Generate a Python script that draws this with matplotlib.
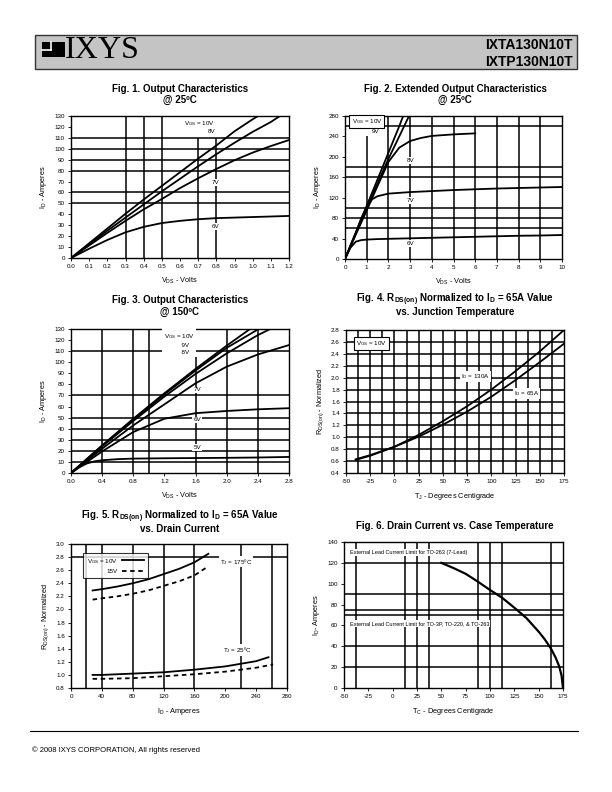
import matplotlib
matplotlib.use('Agg')

import matplotlib.pyplot as plt
from matplotlib.patches import Rectangle
import numpy as np

plt.rcParams['font.family'] = ['Liberation Sans', 'DejaVu Sans']
plt.rcParams['mathtext.fontset'] = 'custom'
plt.rcParams['mathtext.rm'] = 'Liberation Sans'
plt.rcParams['mathtext.it'] = 'Liberation Sans:italic'
plt.rcParams['mathtext.bf'] = 'Liberation Sans:bold'

# ---- data ----
# Fig 1: output characteristics @ 25C
f1_vds_10v = [0, 0.1, 0.2, 0.3, 0.4, 0.5, 0.6, 0.7, 0.8, 0.9, 1.0, 1.03]
f1_id_10v = [0, 13.5, 27, 40.5, 53.5, 66, 78.5, 91, 103, 116, 127, 130]
f1_vds_8v = [0, 0.1, 0.2, 0.3, 0.4, 0.5, 0.6, 0.7, 0.8, 0.9, 1.0, 1.1, 1.15]
f1_id_8v = [0, 12.5, 25, 37, 49, 61, 72.5, 84, 95, 105.5, 115.5, 124.5, 130]
f1_vds = [0, 0.1, 0.2, 0.3, 0.4, 0.5, 0.6, 0.7, 0.8, 0.9, 1.0, 1.1, 1.2]
f1_id_7v = [0, 11.5, 23, 34, 44.5, 54, 64, 73, 81.5, 89.5, 96.5, 102.5, 108]
f1_id_6v = [0, 8.5, 16.5, 23.5, 28.5, 32, 34, 35.5, 36.5, 37, 37.5, 38, 38.5]

# Fig 2: extended output characteristics @ 25C
f2_vds_10v = [0, 0.5, 1, 1.5, 2, 2.5, 2.68]
f2_id_10v = [0, 52, 104, 156, 208, 260, 280]
f2_vds_9v = [0, 0.5, 1, 1.5, 2, 2.5, 2.95]
f2_id_9v = [0, 50, 99, 148, 196, 240, 280]
f2_vds_8v = [0, 0.5, 1, 1.5, 2, 2.5, 3, 3.5, 4, 5, 6]
f2_id_8v = [0, 48, 95, 143, 190, 218, 231, 237, 241, 244, 246]
f2_vds_7v = [0, 0.25, 0.5, 0.75, 1, 1.25, 1.5, 2, 3, 4, 5, 6, 7, 8, 9, 10]
f2_id_7v = [0, 26, 52, 80, 102, 117, 123, 128, 131, 133, 135, 136.5, 138, 139, 140, 141]
f2_vds_6v = [0, 0.25, 0.5, 0.75, 1, 1.5, 2, 3, 4, 5, 6, 7, 8, 9, 10]
f2_id_6v = [0, 22, 34, 37, 38, 39, 39.5, 40.5, 41.5, 42.5, 43.5, 44.5, 45.5, 46, 47]

# Fig 3: output characteristics @ 150C
f3_vds_10v = [0, 0.4, 0.8, 1.2, 1.6, 2.0, 2.3]
f3_id_10v = [0, 25, 49, 72, 94, 115, 130]
f3_vds_9v = [0, 0.4, 0.8, 1.2, 1.6, 2.0, 2.41]
f3_id_9v = [0, 24.5, 48, 71, 92.5, 113, 130]
f3_vds_8v = [0, 0.4, 0.8, 1.2, 1.6, 2.0, 2.4, 2.56]
f3_id_8v = [0, 24, 47, 69, 89.5, 108, 124.5, 130]
f3_vds = [0, 0.4, 0.8, 1.2, 1.6, 2.0, 2.4, 2.8]
f3_id_7v = [0, 22, 43, 62, 81, 96, 107, 115.5]
f3_id_6v = [0, 19.5, 37, 49, 54, 56, 57.5, 58.5]
f3_vds_5v = [0, 0.1, 0.2, 0.3, 0.4, 0.6, 0.8, 1.2, 1.6, 2.0, 2.4, 2.8]
f3_id_5v = [0, 5, 8.5, 10.5, 11.5, 12.5, 13, 13.3, 13.5, 13.7, 14, 14.5]

# Fig 4: RDS(on) vs junction temperature
f4_tj = [-40, -25, 0, 25, 50, 75, 100, 125, 150, 175]
f4_r_130a = [0.62, 0.69, 0.84, 1.04, 1.27, 1.52, 1.80, 2.11, 2.44, 2.80]
f4_r_65a = [0.63, 0.70, 0.84, 1.01, 1.21, 1.43, 1.68, 1.96, 2.26, 2.57]

# Fig 5: RDS(on) vs drain current
f5_id_175 = [28, 40, 60, 80, 100, 120, 140, 160, 178]
f5_r_175_10v = [2.29, 2.31, 2.35, 2.40, 2.46, 2.54, 2.62, 2.72, 2.85]
f5_r_175_15v = [2.15, 2.17, 2.20, 2.24, 2.29, 2.36, 2.43, 2.52, 2.66]
f5_id_25_10v = [28, 40, 80, 120, 160, 200, 240, 256]
f5_r_25_10v = [1.00, 1.00, 1.02, 1.04, 1.08, 1.13, 1.21, 1.27]
f5_id_25_15v = [28, 40, 80, 120, 160, 200, 240, 262]
f5_r_25_15v = [0.94, 0.94, 0.95, 0.98, 1.01, 1.05, 1.11, 1.16]

# Fig 6: drain current vs case temperature
f6_tc = [50, 62.5, 75, 87.5, 100, 112.5, 125, 137.5, 150, 156, 162.5, 167.5, 171, 173.5, 175]
f6_id = [120, 115, 109.5, 102, 94, 86.5, 77, 67, 54, 47, 38, 29, 21, 12, 0]

# ticks
f1_xticks = [0.0, 0.1, 0.2, 0.3, 0.4, 0.5, 0.6, 0.7, 0.8, 0.9, 1.0, 1.1, 1.2]
f1_yticks = list(range(0, 131, 10))
f2_xticks = list(range(0, 11))
f2_yticks = list(range(0, 281, 40))
f3_xticks = [0.0, 0.4, 0.8, 1.2, 1.6, 2.0, 2.4, 2.8]
f3_yticks = list(range(0, 131, 10))
f4_xticks = list(range(-50, 176, 25))
f4_yticks = [0.4, 0.6, 0.8, 1.0, 1.2, 1.4, 1.6, 1.8, 2.0, 2.2, 2.4, 2.6, 2.8]
f5_xticks = list(range(0, 281, 40))
f5_yticks = [0.8, 1.0, 1.2, 1.4, 1.6, 1.8, 2.0, 2.2, 2.4, 2.6, 2.8, 3.0]
f6_xticks = list(range(-50, 176, 25))
f6_yticks = list(range(0, 141, 20))

W, H = 612, 792
fig = plt.figure(figsize=(W / 100, H / 100), dpi=100)

# page overlay in pixel coordinates
page = fig.add_axes([0, 0, 1, 1])
page.set_xlim(0, W)
page.set_ylim(H, 0)
page.axis('off')


def box(l, r, t, b):
    return [l / W, 1 - b / H, (r - l) / W, (b - t) / H]


LW_GRID = 1.1
LW_CURVE = 1.3
TICK_FS = 4.5
LAB_FS = 5.3
NOTE_FS = 4.5
YPAD = 3.5
WHITE = dict(facecolor='white', edgecolor='none', pad=0.6)


def setup(ax, xlim, ylim, xticks, yticks, xfmt, yfmt):
    ax.set_xlim(*xlim)
    ax.set_ylim(*ylim)
    ax.set_xticks(xticks)
    ax.set_yticks(yticks)
    ax.set_xticklabels([xfmt % v for v in xticks])
    ax.set_yticklabels([yfmt % v for v in yticks])
    ax.tick_params(direction='out', length=2, width=0.6, pad=2.5, labelsize=TICK_FS)
    for s in ax.spines.values():
        s.set_linewidth(1.0)


def note(ax, x, y, s, ha='left', bg=True):
    ax.text(x, y, s, fontsize=NOTE_FS, ha=ha, va='center', zorder=5,
            bbox=WHITE if bg else None)


# ---- header ----
page.add_patch(Rectangle((35, 35), 542, 34, facecolor='#c4c4c4', edgecolor='#333333', lw=1.0))
page.add_patch(Rectangle((42, 42), 23, 15, facecolor='black', edgecolor='none'))
page.plot([50.5, 50.5], [42, 49.5], color='white', lw=1.2)
page.plot([42, 50.5], [49.5, 49.5], color='white', lw=1.2)
page.text(65, 50, 'IXYS', fontsize=23, family='Liberation Serif', va='center', ha='left')
page.text(573, 45, 'IXTA130N10T', fontsize=10, weight='bold', ha='right', va='center')
page.text(573, 62, 'IXTP130N10T', fontsize=10, weight='bold', ha='right', va='center')

# ---- titles ----
TFS = 7
page.text(180, 89, 'Fig. 1. Output Characteristics', fontsize=TFS, weight='bold', ha='center', va='center')
page.text(180, 100, '@ 25ºC', fontsize=TFS, weight='bold', ha='center', va='center')
page.text(455, 89, 'Fig. 2. Extended Output Characteristics', fontsize=TFS, weight='bold', ha='center', va='center')
page.text(455, 100, '@ 25ºC', fontsize=TFS, weight='bold', ha='center', va='center')
page.text(180, 300, 'Fig. 3. Output Characteristics', fontsize=TFS, weight='bold', ha='center', va='center')
page.text(180, 312, '@ 150ºC', fontsize=TFS, weight='bold', ha='center', va='center')
page.text(455, 300, r'Fig. 4. R$_{\mathregular{DS(on)}}$ Normalized to I$_{\mathregular{D}}$ = 65A Value',
          fontsize=TFS, weight='bold', ha='center', va='center')
page.text(455, 312, 'vs. Junction Temperature', fontsize=TFS, weight='bold', ha='center', va='center')
page.text(180, 517, r'Fig. 5. R$_{\mathregular{DS(on)}}$ Normalized to I$_{\mathregular{D}}$ = 65A Value',
          fontsize=TFS, weight='bold', ha='center', va='center')
page.text(180, 529, 'vs. Drain Current', fontsize=TFS, weight='bold', ha='center', va='center')
page.text(455, 526, 'Fig. 6. Drain Current vs. Case Temperature', fontsize=TFS, weight='bold',
          ha='center', va='center')

# ---- footer ----
page.plot([30, 578], [731, 731], color='black', lw=0.8)
page.text(32, 750, '© 2008 IXYS CORPORATION, All rights reserved', fontsize=5.5, ha='left', va='center')

ID_LABEL = r'I$_{\mathregular{D}}$ - Amperes'
RDS_LABEL = r'R$_{\mathregular{DS(on)}}$ - Normalized'

# === Fig 1 ===
ax1 = fig.add_axes(box(71, 289, 116, 258))
setup(ax1, (0, 1.2), (0, 130), f1_xticks, f1_yticks, '%.1f', '%d')
for x in [0.3, 0.4, 0.5]:
    ax1.axvline(x, color='black', lw=LW_GRID, zorder=1)
ax1.vlines([0.7, 0.8], 0, 110, color='black', lw=LW_GRID, zorder=1)
for y in [110, 100, 90, 80, 60, 50]:
    ax1.axhline(y, color='black', lw=LW_GRID, zorder=1)
ax1.plot(f1_vds_10v, f1_id_10v, color='black', lw=LW_CURVE, zorder=3)
ax1.plot(f1_vds_8v, f1_id_8v, color='black', lw=LW_CURVE, zorder=3)
ax1.plot(f1_vds, f1_id_7v, color='black', lw=LW_CURVE, zorder=3)
ax1.plot(f1_vds, f1_id_6v, color='black', lw=LW_CURVE, zorder=3)
note(ax1, 0.62, 123, r'V$_{\mathregular{GS}}$ = 10V')
note(ax1, 0.75, 116, '8V')
note(ax1, 0.775, 69, '7V')
note(ax1, 0.775, 29, '6V')
ax1.set_xlabel(r'V$_{\mathregular{DS}}$ - Volts', fontsize=LAB_FS, labelpad=5)
ax1.set_ylabel(ID_LABEL, fontsize=LAB_FS, labelpad=YPAD)

# === Fig 2 ===
ax2 = fig.add_axes(box(345, 562, 116, 259))
setup(ax2, (0, 10), (0, 280), f2_xticks, f2_yticks, '%d', '%d')
for x in range(2, 10):
    ax2.axvline(x, color='black', lw=LW_GRID, zorder=1)
ax2.vlines([1], 0, 240, color='black', lw=LW_GRID, zorder=1)
for y in [260, 180, 160, 100, 80, 60]:
    ax2.axhline(y, color='black', lw=LW_GRID, zorder=1)
ax2.plot(f2_vds_10v, f2_id_10v, color='black', lw=LW_CURVE, zorder=3)
ax2.plot(f2_vds_9v, f2_id_9v, color='black', lw=LW_CURVE, zorder=3)
ax2.plot(f2_vds_8v, f2_id_8v, color='black', lw=LW_CURVE, zorder=3)
ax2.plot(f2_vds_7v, f2_id_7v, color='black', lw=LW_CURVE, zorder=3)
ax2.plot(f2_vds_6v, f2_id_6v, color='black', lw=LW_CURVE, zorder=3)
ax2.text(0.3, 270, r'V$_{\mathregular{GS}}$ = 10V', fontsize=NOTE_FS, ha='left', va='center', zorder=5,
         bbox=dict(facecolor='white', edgecolor='black', lw=0.8, pad=1.5))
note(ax2, 1.25, 249, '9V')
note(ax2, 2.85, 193, '8V')
note(ax2, 2.85, 115, '7V')
note(ax2, 2.85, 30, '6V')
ax2.set_xlabel(r'V$_{\mathregular{DS}}$ - Volts', fontsize=LAB_FS, labelpad=5)
ax2.set_ylabel(ID_LABEL, fontsize=LAB_FS, labelpad=YPAD)

# === Fig 3 ===
ax3 = fig.add_axes(box(71, 289, 329, 473))
setup(ax3, (0, 2.8), (0, 130), f3_xticks, f3_yticks, '%.1f', '%d')
for x in [0.4, 0.8, 1.0, 2.0, 2.4]:
    ax3.axvline(x, color='black', lw=LW_GRID, zorder=1)
ax3.vlines([1.6], 0, 105, color='black', lw=LW_GRID, zorder=1)
for y in [110, 70, 50, 40, 30, 20, 10]:
    ax3.axhline(y, color='black', lw=LW_GRID, zorder=1)
ax3.plot(f3_vds_10v, f3_id_10v, color='black', lw=LW_CURVE, zorder=3)
ax3.plot(f3_vds_9v, f3_id_9v, color='black', lw=LW_CURVE, zorder=3)
ax3.plot(f3_vds_8v, f3_id_8v, color='black', lw=LW_CURVE, zorder=3)
ax3.plot(f3_vds, f3_id_7v, color='black', lw=LW_CURVE, zorder=3)
ax3.plot(f3_vds, f3_id_6v, color='black', lw=LW_CURVE, zorder=3)
ax3.plot(f3_vds_5v, f3_id_5v, color='black', lw=LW_CURVE, zorder=3)
ax3.text(1.19, 117, r'V$_{\mathregular{GS}}$ = 10V' + '\n          9V\n          8V', fontsize=NOTE_FS,
         ha='left', va='center', zorder=5, linespacing=1.5,
         bbox=dict(facecolor='white', edgecolor='none', pad=1.2))
note(ax3, 1.57, 75, '7V')
note(ax3, 1.57, 48, '6V')
note(ax3, 1.57, 23, '5V')
ax3.set_xlabel(r'V$_{\mathregular{DS}}$ - Volts', fontsize=LAB_FS, labelpad=5)
ax3.set_ylabel(ID_LABEL, fontsize=LAB_FS, labelpad=YPAD)

# === Fig 4 ===
ax4 = fig.add_axes(box(346, 564, 330, 473))
setup(ax4, (-50, 175), (0.4, 2.8), f4_xticks, f4_yticks, '%d', '%.1f')
for x in np.arange(-37.5, 175, 12.5):
    ax4.axvline(x, color='black', lw=LW_GRID, zorder=1)
for y in f4_yticks[1:-1]:
    ax4.axhline(y, color='black', lw=LW_GRID, zorder=1)
ax4.plot(f4_tj, f4_r_130a, color='black', lw=LW_CURVE, zorder=3)
ax4.plot(f4_tj, f4_r_65a, color='black', lw=LW_CURVE, zorder=3)
ax4.text(-40, 2.58, r'V$_{\mathregular{GS}}$ = 10V', fontsize=NOTE_FS, ha='left', va='center', zorder=5,
         bbox=dict(facecolor='white', edgecolor='black', lw=0.8, pad=1.5))
note(ax4, 69, 2.02, r'I$_{\mathregular{D}}$ = 130A')
note(ax4, 123, 1.73, r'I$_{\mathregular{D}}$ = 65A')
ax4.set_xlabel(r'T$_{\mathregular{J}}$ - Degrees Centigrade', fontsize=LAB_FS, labelpad=5)
ax4.set_ylabel(RDS_LABEL, fontsize=LAB_FS, labelpad=YPAD)

# === Fig 5 ===
ax5 = fig.add_axes(box(71, 287, 544, 688))
setup(ax5, (0, 280), (0.8, 3.0), f5_xticks, f5_yticks, '%d', '%.1f')
for x in [20, 40, 80, 120, 160, 220, 260]:
    ax5.axvline(x, color='black', lw=LW_GRID, zorder=1)
ax5.axhline(2.8, color='black', lw=LW_GRID, zorder=1)
l10, = ax5.plot(f5_id_175, f5_r_175_10v, color='black', lw=LW_CURVE, zorder=3)
l15, = ax5.plot(f5_id_175, f5_r_175_15v, color='black', lw=LW_CURVE, ls=(0, (2.5, 2)), zorder=3)
ax5.plot(f5_id_25_10v, f5_r_25_10v, color='black', lw=LW_CURVE, zorder=3)
ax5.plot(f5_id_25_15v, f5_r_25_15v, color='black', lw=LW_CURVE, ls=(0, (2.5, 2)), zorder=3)
leg = ax5.legend([l10, l15], [r'V$_{\mathregular{GS}}$ = 10V', '15V'], loc='upper left',
                 bbox_to_anchor=(0.04, 0.96), fontsize=NOTE_FS, frameon=True, fancybox=False,
                 edgecolor='black', handlelength=3.5, markerfirst=False, borderpad=0.6,
                 labelspacing=0.5)
leg.get_frame().set_linewidth(0.8)
leg.set_zorder(6)
for t in leg.get_texts():
    t.set_ha('right')
note(ax5, 193, 2.73, r'T$_{\mathregular{J}}$ = 175ºC')
note(ax5, 197, 1.38, r'T$_{\mathregular{J}}$ = 25ºC')
ax5.set_xlabel(ID_LABEL, fontsize=LAB_FS, labelpad=5)
ax5.set_ylabel(RDS_LABEL, fontsize=LAB_FS, labelpad=YPAD)

# === Fig 6 ===
ax6 = fig.add_axes(box(344, 563, 542, 688))
setup(ax6, (-50, 175), (0, 140), f6_xticks, f6_yticks, '%d', '%d')
for x in [-37.5, 12.5, 25, 37.5, 87.5, 100, 112.5, 162.5]:
    ax6.axvline(x, color='black', lw=LW_GRID, zorder=1)
for y in [120, 90, 75, 70, 40, 20]:
    ax6.axhline(y, color='black', lw=LW_GRID, zorder=1)
ax6.plot(f6_tc, f6_id, color='black', lw=LW_CURVE + 0.3, zorder=3)
ax6.text(-44, 130, 'External Lead Current Limit for TO-263 (7-Lead)', fontsize=4.0, ha='left',
         va='center', zorder=5, bbox=WHITE)
ax6.text(-44, 62, 'External Lead Current Limit for TO-3P, TO-220, & TO-263', fontsize=4.0, ha='left',
         va='center', zorder=5, bbox=WHITE)
ax6.set_xlabel(r'T$_{\mathregular{C}}$ - Degrees Centigrade', fontsize=LAB_FS, labelpad=5)
ax6.set_ylabel(r'I$_{\mathregular{D}}$- Amperes', fontsize=LAB_FS, labelpad=YPAD)

fig.savefig('out.png', dpi=100)
